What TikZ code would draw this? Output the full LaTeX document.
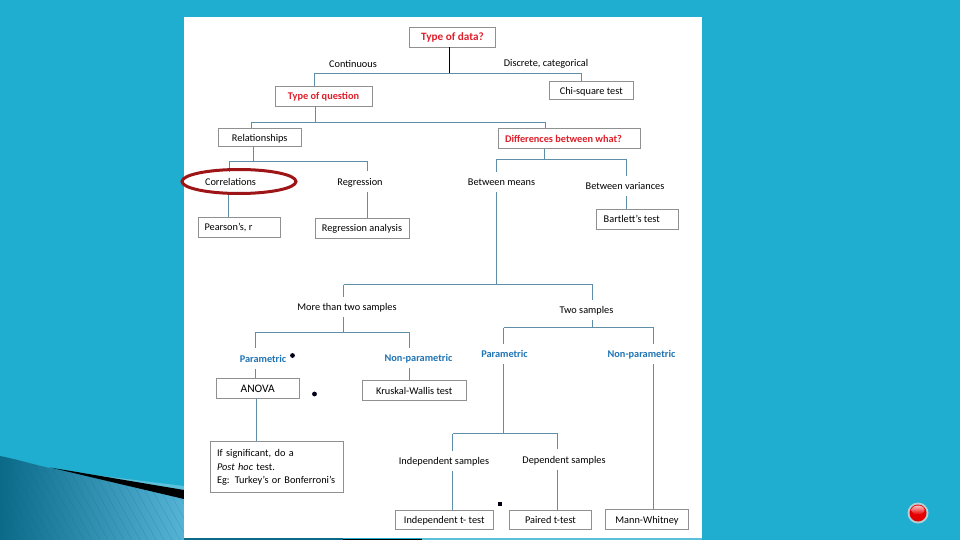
\documentclass[tikz,border=0pt]{standalone}
\usepackage{fontspec}
\setmainfont{Carlito}
\definecolor{bgblue}{HTML}{1FAECF}
\definecolor{conn}{HTML}{5F8FA8}
\definecolor{boxgray}{HTML}{909090}
\definecolor{hotred}{HTML}{DE1F2B}
\definecolor{headblue}{HTML}{1F74B5}
\definecolor{ringred}{HTML}{9E1518}
\definecolor{swdark}{HTML}{0B6A88}
\definecolor{swlight}{HTML}{55B4D6}
\definecolor{swtop}{HTML}{5CC0DA}
\tikzset{
  x=1pt,y=-1pt,
  every node/.style={font=\fontsize{10.3}{12}\selectfont,text=black,inner sep=0pt,text height=8pt,text depth=0.4pt},
  boxn/.style={draw=boxgray,line width=0.8pt,fill=white},
  lbl/.style={minimum height=20pt},
  hot/.style={text=hotred,font=\fontsize{10.3}{12}\selectfont\bfseries},
  head/.style={text=headblue,font=\fontsize{10.3}{12}\selectfont\bfseries},
  link/.style={draw=conn,line width=0.9pt},
  speck/.style={fill=black!90!blue,draw=none}
}
\begin{document}
\begin{tikzpicture}
\useasboundingbox (0,0) rectangle (960,540);
\fill[bgblue] (0,0) rectangle (960,540);
% swoosh
\shade[left color=swdark, right color=swlight]
  (0,456) .. controls (20,460) and (35,465) .. (50,468) -- (184,497) -- (184,540) -- (0,540) -- cycle;
\begin{scope}
\clip (0,456) .. controls (20,460) and (35,465) .. (50,468) -- (184,497) -- (184,540) -- (0,540) -- cycle;
\foreach \k in {0,8,...,260}{\draw[swdark,opacity=.25,line width=.4pt] (\k-30,450) -- (\k+20,540);}
\end{scope}
\fill[swtop] (70,472) -- (184,486) -- (184,491) -- cycle;
\fill[black] (50,467.5) -- (184,490) -- (184,499) -- cycle;
\fill[swdark] (184,538) rectangle (343,540);
\fill[swtop] (422,538) rectangle (702,540);
\fill[black] (343,538.5) rectangle (422,540);
% page
\fill[white] (184,17) rectangle (702,538);

% boxes and labels
\node[boxn,hot,font=\fontsize{11.2}{13}\selectfont\bfseries,minimum width=86pt,minimum height=20pt] (data) at (452.5,37) {Type of data?};
\node (cont) at (353,64) {Continuous};
\node (disc) at (546,62.5) {Discrete, categorical};
\node[boxn,hot,minimum width=97pt,minimum height=20pt] (question) at (323.5,96) {Type of question};
\node[boxn,minimum width=83.5pt,minimum height=18.5pt] (chi) at (591.25,90.25) {Chi-square test};
\node[boxn,minimum width=83.5pt,minimum height=18.5pt] (rel) at (259.75,137.25) {Relationships};
\node[boxn,hot,minimum width=142pt,minimum height=20.5pt] (diff) at (569.5,138.25) {Differences between what?\kern12pt};
\node[lbl] (corr) at (230.5,182) {Correlations};
\node[lbl] (regr) at (360,181.5) {Regression};
\node[lbl] (means) at (501.5,182) {Between means};
\node[lbl] (vars) at (625,186) {Between variances};
\node[boxn,minimum width=82pt,minimum height=20pt] (pear) at (239,227) {Pearson’s, r\kern21pt};
\node[boxn,minimum width=94pt,minimum height=20pt] (rega) at (362,228) {Regression analysis};
\node[boxn,minimum width=82pt,minimum height=20pt] (bart) at (637,219) {Bartlett’s test\kern10.5pt};
\node[lbl] (more) at (347,307) {More than two samples};
\node[lbl] (two) at (586.5,310) {Two samples};
\node[lbl,head] (parl) at (263,358.5) {Parametric};
\node[lbl,head] (nonl) at (418.5,358) {Non-parametric};
\node[lbl,head] (parr) at (504.5,354) {Parametric};
\node[lbl,head] (nonr) at (641.5,354) {Non-parametric};
\node[boxn,minimum width=83.5pt,minimum height=20.5pt,font=\fontsize{11.5}{13}\selectfont] (anova) at (257.75,388.25) {ANOVA};
\node[boxn,minimum width=104.5pt,minimum height=20pt] (krus) at (414.25,390.5) {Kruskal-Wallis test};
\node[boxn,minimum width=133pt,minimum height=51pt,text depth=,text height=,align=left,text width=120pt] (posthoc) at (277,467) {\raisebox{1pt}{If significant, do a}\\[1pt]\textit{Post hoc} test.\\[1pt]Eg: Turkey’s or Bonferroni’s};
\node[lbl] (indep) at (444,461) {Independent samples};
\node[lbl] (dep) at (564,459.5) {Dependent samples};
\node[boxn,minimum width=98.5pt,minimum height=18.5pt] (indt) at (444.25,519.75) {Independent t- test};
\node[boxn,minimum width=82pt,minimum height=19pt] (pair) at (550.5,520) {Paired t-test};
\node[boxn,minimum width=83pt,minimum height=19.5pt] (mann) at (647,519.25) {Mann-Whitney};

% junctions
\coordinate (jtop) at (449.5,73.5);
\coordinate (jtopl) at (314.5,73.5);
\coordinate (jtopr) at (581.5,73.5);
\coordinate (jq) at (315.5,122.5);
\coordinate (jql) at (251.5,122.5);
\coordinate (jqr) at (545,122.5);
\coordinate (jrel) at (253.5,161);
\coordinate (jrell) at (229.5,161);
\coordinate (jrelr) at (367,161);
\coordinate (jd) at (544,159.5);
\coordinate (jdl) at (496.5,159.5);
\coordinate (jdr) at (626.5,159.5);
\coordinate (jm) at (496.5,284.5);
\coordinate (jml) at (343.5,284.5);
\coordinate (jmr) at (592.5,284.5);
\coordinate (jmore) at (343.5,332);
\coordinate (jmorel) at (255.5,332);
\coordinate (jmorer) at (409.5,332);
\coordinate (jtwo) at (592.5,327.5);
\coordinate (jtwol) at (503.5,327.5);
\coordinate (jtwor) at (653.5,327.5);
\coordinate (jp) at (503.5,433.5);
\coordinate (jpl) at (452.5,433.5);
\coordinate (jpr) at (557.5,433.5);

% connectors
\draw[black,line width=1pt] (data.south -| jtop) -- (jtop);
\draw[link] (jtopl) -- (jtopr);
\draw[link] (jtopl) -- (question.north -| jtopl);
\draw[link] (jtopr) -- (chi.north -| jtopr);
\draw[link] (question.south -| jq) -- (jq);
\draw[link] (jql) -- (jqr);
\draw[link] (jql) -- (rel.north -| jql);
\draw[link] (jqr) -- (diff.north -| jqr);
\draw[link] (rel.south -| jrel) -- (jrel);
\draw[link] (jrell) -- (jrelr);
\draw[link] (jrell) -- (corr.north -| jrell);
\draw[link] (jrelr) -- (regr.north -| jrelr);
\draw[link] (diff.south -| jd) -- (jd);
\draw[link] (jdl) -- (jdr);
\draw[link] (jdl) -- (means.north -| jdl);
\draw[link] (jdr) -- (vars.north -| jdr);
\draw[link] (corr.south -| 228.5,0) -- (pear.north -| 228.5,0);
\draw[link] (regr.south -| jrelr) -- (rega.north -| jrelr);
\draw[link] (vars.south -| jdr) -- (bart.north -| jdr);
\draw[link] (means.south -| jdl) -- (jm);
\draw[link] (jml) -- (jmr);
\draw[link] (jml) -- (more.north -| jml);
\draw[link] (jmr) -- (two.north -| jmr);
\draw[link] (more.south -| jmore) -- (jmore);
\draw[link] (jmorel) -- (jmorer);
\draw[link] (jmorel) -- (parl.north -| jmorel);
\draw[link] (jmorer) -- (nonl.north -| jmorer);
\draw[link] (parl.south -| jmorel) -- (anova.north -| jmorel);
\draw[link] (nonl.south -| jmorer) -- (krus.north -| jmorer);
\draw[link] (anova.south -| 256.5,0) -- (posthoc.north -| 256.5,0);
\draw[link] (two.south -| jtwo) -- (jtwo);
\draw[link] (jtwol) -- (jtwor);
\draw[link] (jtwol) -- (parr.north -| jtwol);
\draw[link] (jtwor) -- (nonr.north -| jtwor);
\draw[link] (parr.south -| jp) -- (jp);
\draw[link] (jpl) -- (jpr);
\draw[link] (jpl) -- (indep.north -| jpl);
\draw[link] (jpr) -- (dep.north -| jpr);
\draw[link] (indep.south -| jpl) -- (indt.north -| jpl);
\draw[link] (dep.south -| jpr) -- (pair.north -| jpr);
\draw[link] (nonr.south -| jtwor) -- (mann.north -| jtwor);

% highlight ellipse
\draw[ringred,line width=3pt] (239,181.5) ellipse [x radius=57,y radius=12];

% specks
\fill[speck] (292.5,355.5) circle (2.4);
\fill[speck] (314.5,394) circle (2.4);
\fill[speck] (497.7,501.7) rectangle (502.3,506.3);

% button
\fill[black!15!white,opacity=.8] (918,513) circle (10.5);
\fill[red!90!black] (918,513) circle (8.5);
\shade[top color=white!75!red,bottom color=red!90!black] (918,510) ellipse [x radius=6.5,y radius=4.5];
\end{tikzpicture}
\end{document}
